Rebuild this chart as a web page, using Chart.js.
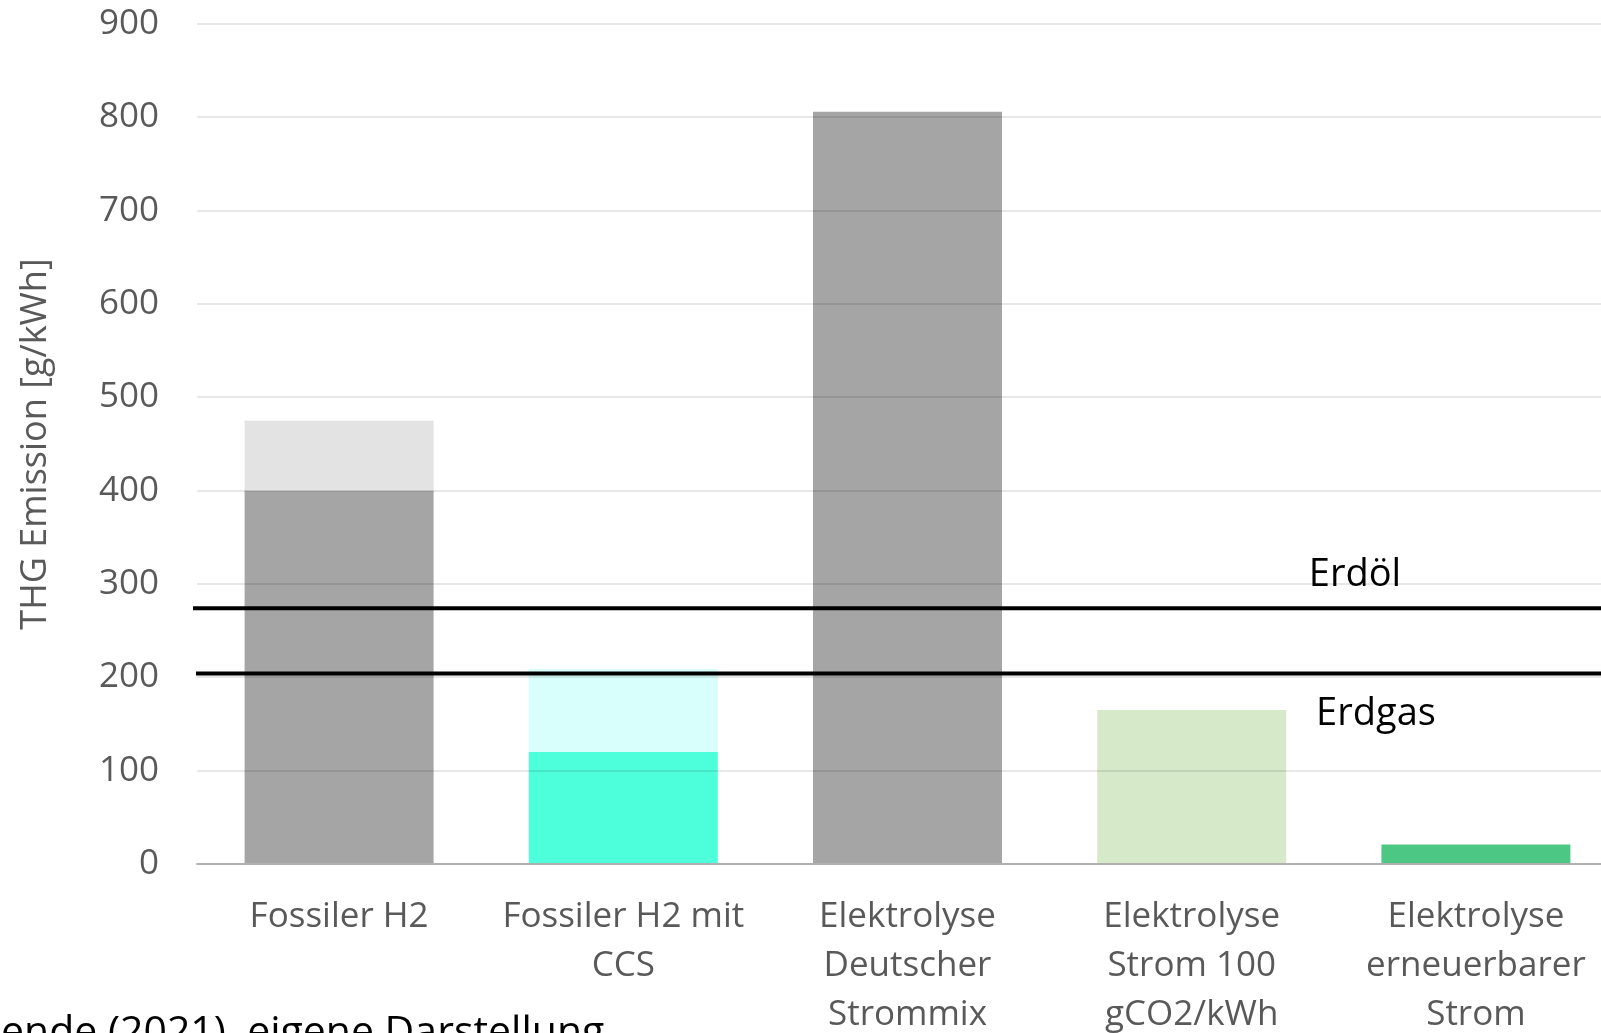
<!DOCTYPE html>
<html lang="de">
<head>
<meta charset="utf-8">
<title>THG Emission Wasserstoff</title>
<script src="https://cdn.jsdelivr.net/npm/chart.js@4/dist/chart.umd.min.js"></script>
<style>
  html, body { margin: 0; padding: 0; background: #ffffff; overflow: hidden; }
  #wrap { position: relative; width: 1618px; height: 1045px; }
  canvas { display: block; }
</style>
</head>
<body>
<div id="wrap"><canvas id="chart" width="1618" height="1045"></canvas></div>
<script>
// Categories (multi-line axis labels)
const categories = [
  ['Fossiler H2'],
  ['Fossiler H2 mit', 'CCS'],
  ['Elektrolyse', 'Deutscher', 'Strommix'],
  ['Elektrolyse', 'Strom 100', 'gCO2/kWh'],
  ['Elektrolyse', 'erneuerbarer', 'Strom']
];

// Base emissions per pathway [g/kWh]
const baseValues = [400, 120, 806, 165, 21];
// Additional (upstream) emissions stacked on top [g/kWh]
const upstreamValues = [75, 89, 0, 0, 0];

// Reference levels of conventional fuels [g/kWh]
const referenceNames = ['Erdöl', 'Erdgas'];
const referenceValues = [274, 204];

// Y axis ticks
const yMin = 0;
const yMax = 900;
const yStep = 100;

const baseColors = ['#a5a5a5', '#4effdb', '#a5a5a5', '#d6e9c9', '#4cc884'];
const upstreamColors = ['#e3e3e3', '#d8fffc', '#e3e3e3', '#d6e9c9', '#4cc884'];

const FONT = '"Open Sans", "DejaVu Sans", sans-serif';

// Horizontal reference lines with their labels, and the source note
const referenceLines = {
  id: 'referenceLines',
  afterDraw(chart) {
    const ctx = chart.ctx;
    const y = chart.scales.y;
    const lineStart = [193, 196];
    const labelX = [1355, 1376];
    const labelDy = [-22, 51];
    ctx.save();
    referenceValues.forEach((v, i) => {
      const py = y.getPixelForValue(v);
      ctx.beginPath();
      ctx.strokeStyle = '#000000';
      ctx.lineWidth = 4;
      ctx.moveTo(lineStart[i], py);
      ctx.lineTo(chart.width, py);
      ctx.stroke();
      ctx.fillStyle = '#000000';
      ctx.font = '38px ' + FONT;
      ctx.textAlign = 'center';
      ctx.textBaseline = 'alphabetic';
      ctx.fillText(referenceNames[i], labelX[i], py + labelDy[i]);
    });
    ctx.fillStyle = '#000000';
    ctx.font = '41px ' + FONT;
    ctx.textAlign = 'left';
    ctx.textBaseline = 'alphabetic';
    ctx.fillText('ende (2021), eigene Darstellung', 1, 1045);
    ctx.restore();
  }
};

new Chart(document.getElementById('chart'), {
  type: 'bar',
  data: {
    labels: categories,
    datasets: [
      {
        label: 'Emission',
        data: baseValues,
        backgroundColor: baseColors,
        borderWidth: 0,
        stack: 's'
      },
      {
        label: 'Vorkette',
        data: upstreamValues,
        backgroundColor: upstreamColors,
        borderWidth: 0,
        stack: 's'
      }
    ]
  },
  options: {
    responsive: false,
    animation: false,
    devicePixelRatio: 1,
    layout: { padding: { top: 24, left: 0, right: 0, bottom: 0 } },
    datasets: {
      bar: { categoryPercentage: 1.0, barPercentage: 0.665 }
    },
    plugins: {
      legend: { display: false },
      tooltip: { enabled: false },
      title: { display: false }
    },
    scales: {
      x: {
        stacked: true,
        grid: { display: false },
        border: { display: true, color: '#c3c3c3', width: 2 },
        ticks: {
          color: '#595959',
          font: { family: FONT, size: 35, lineHeight: 1.4 },
          padding: 20.5,
          maxRotation: 0,
          autoSkip: false
        },
        afterFit(scale) {
          scale.height = 181;
          scale.paddingLeft = 0;
          scale.paddingRight = 0;
        }
      },
      y: {
        stacked: true,
        min: yMin,
        max: yMax,
        grid: {
          color: 'rgba(0,0,0,0.095)',
          lineWidth: 2,
          drawTicks: false,
          z: 1
        },
        border: { display: false },
        ticks: {
          stepSize: yStep,
          color: '#595959',
          font: { family: FONT, size: 35 },
          padding: 38
        },
        title: {
          display: true,
          text: 'THG Emission [g/kWh]',
          color: '#595959',
          font: { family: FONT, size: 36 },
          padding: { top: 14, bottom: 0 }
        },
        afterFit(scale) {
          scale.width = 197;
          scale.paddingTop = 0;
          scale.paddingBottom = 0;
        }
      }
    }
  },
  plugins: [referenceLines]
});
</script>
</body>
</html>
